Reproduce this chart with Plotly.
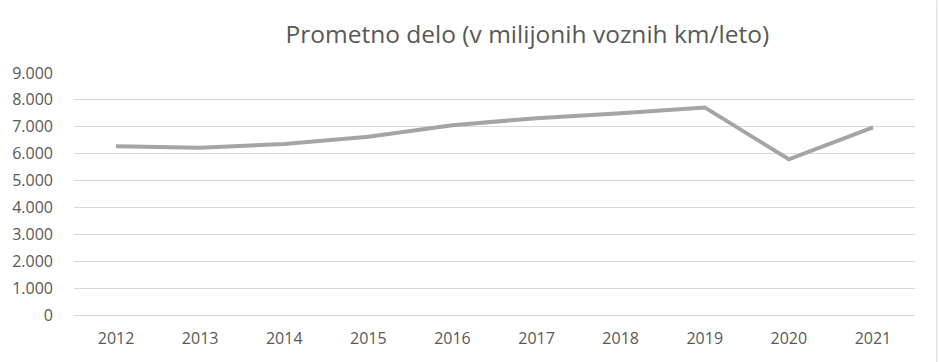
import plotly.graph_objects as go

years = ["2012", "2013", "2014", "2015", "2016", "2017", "2018", "2019", "2020", "2021"]
prometno_delo = [6280, 6220, 6360, 6630, 7060, 7320, 7500, 7720, 5790, 6980]
y_ticks = [0, 1000, 2000, 3000, 4000, 5000, 6000, 7000, 8000, 9000]
y_tick_labels = ["0", "1.000", "2.000", "3.000", "4.000", "5.000", "6.000", "7.000", "8.000", "9.000"]

fig = go.Figure()
fig.add_trace(go.Scatter(
    x=years, y=prometno_delo, mode="lines",
    line=dict(color="#a5a5a5", width=4),
    showlegend=False,
))

fig.update_layout(
    width=940, height=362,
    margin=dict(l=72, r=25, t=73, b=47),
    paper_bgcolor="white", plot_bgcolor="white",
    font=dict(family="Open Sans, sans-serif", color="#595959", size=16),
    title=dict(text="Prometno delo (v milijonih voznih km/leto)",
               x=0.561, xanchor="center", y=0.905, yanchor="middle",
               font=dict(size=24.5, color="#595959")),
    xaxis=dict(type="category", range=[-0.5, 9.5], showgrid=False,
               showline=False, zeroline=False, ticks="", ticklabelstandoff=12),
    yaxis=dict(range=[0, 9000], tickvals=y_ticks, ticktext=y_tick_labels,
               showgrid=True, gridcolor="#d9d9d9", gridwidth=1,
               zeroline=True, zerolinecolor="#d9d9d9", zerolinewidth=1,
               showline=False, ticks="", ticklabelstandoff=20),
    shapes=[dict(type="line", xref="paper", yref="paper",
                 x0=1.026, x1=1.026, y0=-0.2, y1=1.3,
                 line=dict(color="#d9d9d9", width=1))],
)

fig.write_html("out.html")
